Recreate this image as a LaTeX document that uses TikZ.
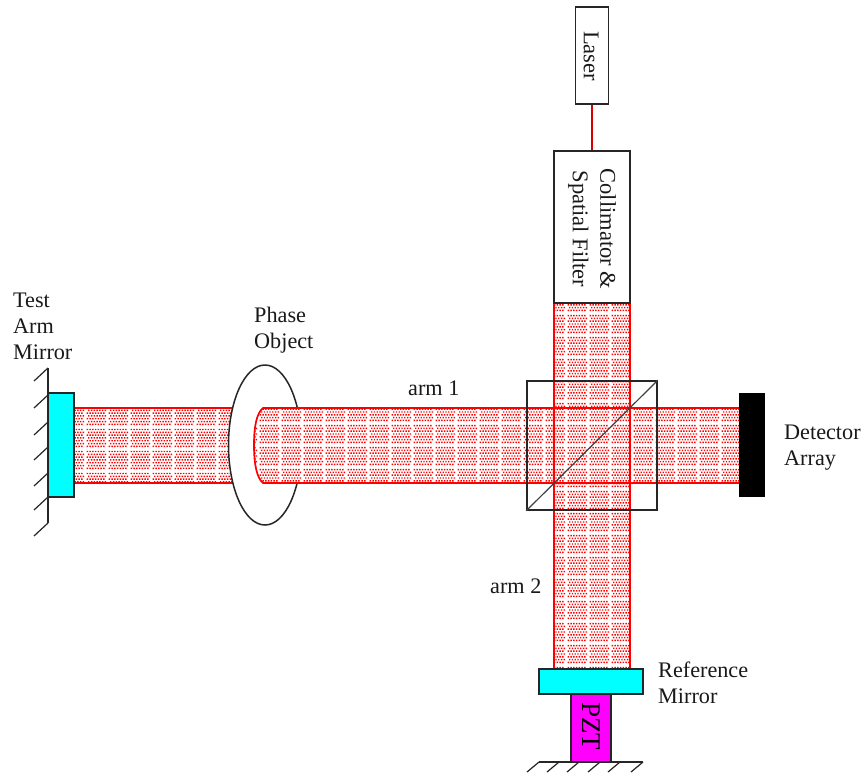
\documentclass[tikz,border=0pt]{standalone}
\usepackage{fontspec}
\setmainfont{Liberation Serif}
\usetikzlibrary{patterns}
\pgfdeclarepatternformonly{beamdots}{\pgfqpoint{0pt}{0pt}}{\pgfqpoint{21.6pt}{21.6pt}}{\pgfqpoint{21.6pt}{21.6pt}}{%
  \foreach \r in {0,...,6}{%
    \foreach \c in {0,...,6}{%
      \pgfmathsetmacro{\px}{0.7+\c*2.8+1.4*mod(\r,2)}%
      \pgfmathsetmacro{\py}{0.9+\r*2.85}%
      \pgfpathrectangle{\pgfqpoint{\px pt}{\py pt}}{\pgfqpoint{1.45pt}{1.45pt}}%
    }%
  }%
  \pgfusepath{fill}%
}
\definecolor{mirrorcyan}{RGB}{0,255,255}
\definecolor{pztmag}{RGB}{255,0,255}
\tikzset{
  x=1pt,y=-1pt,
  outline/.style={draw=black!85,line width=1.5pt},
  beamfill/.style={pattern=beamdots,pattern color=red},
  beamedge/.style={draw=red,line width=1.7pt},
  hatch/.style={draw=black!85,line width=1.2pt},
  label/.style={font=\fontsize{22.2}{26}\selectfont,align=left,inner sep=0pt,text=black!90},
  turned/.style={font=\fontsize{22.5}{27.5}\selectfont,align=center,rotate=-90,inner sep=0pt,text=black!90},
}
\begin{document}
\begin{tikzpicture}
\path[use as bounding box,fill=white] (0,0) rectangle (864,772);
% beams
\path[beamfill] (74,408) rectangle (240,483);
\draw[beamedge] (74,408) -- (240,408) (74,483) -- (240,483);
\fill[white] (265,445) ellipse [x radius=36.5,y radius=80];
\begin{scope}
  \clip (0,0) -- (864,0) -- (864,408) -- (268,408) -- (268,483) -- (864,483) -- (864,772) -- (0,772) -- cycle;
  \draw[outline] (265,445) ellipse [x radius=36.5,y radius=80];
\end{scope}
\path[beamfill] (263,408) -- (739,408) -- (739,483) -- (263,483)
  .. controls (257,478) and (254,465) .. (254,445)
  .. controls (254,425) and (257,413) .. (263,408) -- cycle
  (554,303) -- (630,303) -- (630,669) -- (554,669) -- cycle;
\draw[beamedge] (739,408) -- (263,408)
  .. controls (257,413) and (254,425) .. (254,445)
  .. controls (254,465) and (257,478) .. (263,483) -- (739,483);
\draw[beamedge] (554,303) -- (554,669) (630,303) -- (630,669);
% test arm mirror wall
\draw[hatch] (48,368) -- (48,523);
\foreach \yy in {368,395,422,447,473,497,523}
  \draw[hatch] (48,\yy) -- (34,\yy+13);
\node[outline,fill=mirrorcyan,inner sep=0pt,minimum width=26pt,minimum height=104pt] (testmirror) at (61,445) {};
% cube
\node[outline,inner sep=0pt,minimum width=130pt,minimum height=129pt] (cube) at (592,445.5) {};
\draw[black!75,line width=1.2pt] (cube.south west) -- (cube.north east);
% detector
\node[fill=black,inner sep=0pt,minimum width=26pt,minimum height=104pt] (detector) at (752,445) {};
% source
\node[outline,fill=white,inner sep=0pt,minimum width=33pt,minimum height=97pt] (laser) at (592,55.5) {};
\node[outline,fill=white,inner sep=0pt,minimum width=76pt,minimum height=152pt] (collimator) at (592,227) {};
\draw[red!85!black,line width=1.3pt] (laser.south) -- (collimator.north);
\node[turned] (lasertext) at (591,56) {Laser};
\node[turned] (colltext) at (592,229) {Collimator \&\\Spatial Filter};
% reference mirror and PZT
\node[outline,fill=pztmag,inner sep=0pt,minimum width=40pt,minimum height=68pt] (pzt) at (591,728) {};
\node[font=\fontsize{27}{28}\selectfont,rotate=-90,inner sep=0pt,text=black] (pzttext) at (591,726) {PZT};
\node[outline,fill=mirrorcyan,inner sep=0pt,minimum width=104pt,minimum height=25pt] (refmirror) at (591,681.5) {};
\draw[hatch] (539,762) -- (643,762);
\foreach \xx in {539,559,579,600,620,643}
  \draw[hatch] (\xx,762) -- (\xx-12,772);
% labels
\node[label,anchor=north west] (testlabel) at (13,293) {Test\\Arm\\Mirror};
\node[label,anchor=north west] (phaselabel) at (254,307) {Phase\\Object};
\node[label,anchor=north west] (arm1) at (408,381) {arm 1};
\node[label,anchor=north west] (arm2) at (490,579) {arm 2};
\node[label,anchor=north west] (detlabel) at (784,425) {Detector\\Array};
\node[label,anchor=north west] (reflabel) at (658,662) {Reference\\Mirror};
\end{tikzpicture}
\end{document}
